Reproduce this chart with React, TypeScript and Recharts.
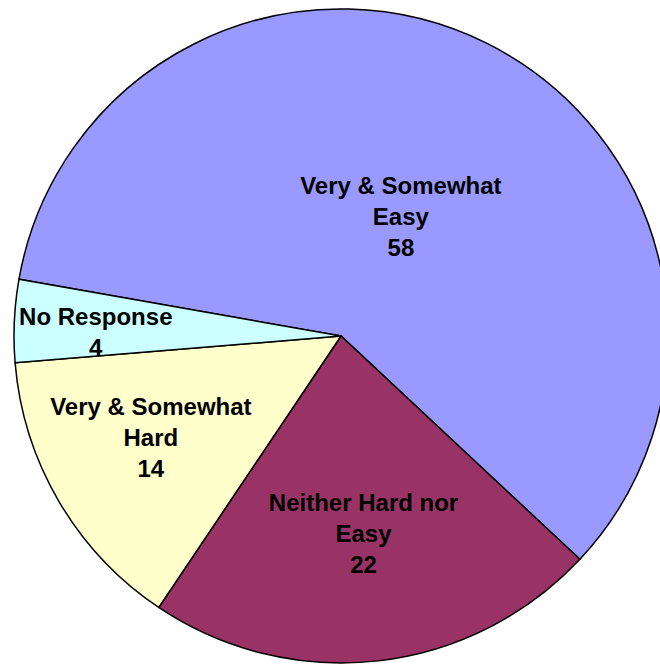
import React from 'react';
import { PieChart, Pie, Cell } from 'recharts';

// slice order runs clockwise from the cyan/blue boundary
const categories = ['Very & Somewhat\nEasy', 'Neither Hard nor\nEasy', 'Very & Somewhat\nHard', 'No Response'];
const values = [58, 22, 14, 4];
const colors = ['#9999FF', '#993366', '#FFFFCC', '#CCFFFF'];

const data = categories.map((name, i) => ({ name, value: values[i] }));

const RADIAN = Math.PI / 180;
// label distance (fraction of radius) and small angle nudge, per slice
const labelPlacement = [
  { r: 0.41, da: 0 },
  { r: 0.606, da: 0 },
  { r: 0.658, da: -2.5 },
  { r: 0.75, da: 1.5 },
];

const renderLabel = (props: any) => {
  const { cx, cy, midAngle, outerRadius, index, name, value } = props;
  const p = labelPlacement[index];
  const ang = (midAngle + p.da) * RADIAN;
  const x = cx + outerRadius * p.r * Math.cos(-ang);
  const y = cy + outerRadius * p.r * Math.sin(-ang);
  const lines = [...String(name).split('\n'), String(value)];
  const lh = 31;
  const y0 = y - ((lines.length - 1) * lh) / 2;
  return (
    <text
      x={x}
      y={y0}
      textAnchor="middle"
      dominantBaseline="central"
      fill="#000"
      style={{ fontFamily: '"Liberation Sans", Arial, sans-serif', fontWeight: 'bold', fontSize: 24 }}
    >
      {lines.map((t, i) => (
        <tspan key={i} x={x} y={y0 + i * lh}>
          {t}
        </tspan>
      ))}
    </text>
  );
};

export default function App() {
  return (
    <div style={{ position: 'absolute', left: 0, top: 0, width: 660, height: 664, background: '#fff' }}>
      <PieChart width={660} height={664} margin={{ top: 0, right: 0, bottom: 0, left: 0 }}>
        <Pie
          data={data}
          dataKey="value"
          nameKey="name"
          cx={341}
          cy={336}
          outerRadius={327}
          startAngle={170}
          endAngle={-190}
          stroke="#000"
          strokeWidth={1.5}
          labelLine={false}
          label={renderLabel}
          isAnimationActive={false}
        >
          {data.map((d, i) => (
            <Cell key={`cell-${i}`} fill={colors[i]} />
          ))}
        </Pie>
      </PieChart>
    </div>
  );
}
